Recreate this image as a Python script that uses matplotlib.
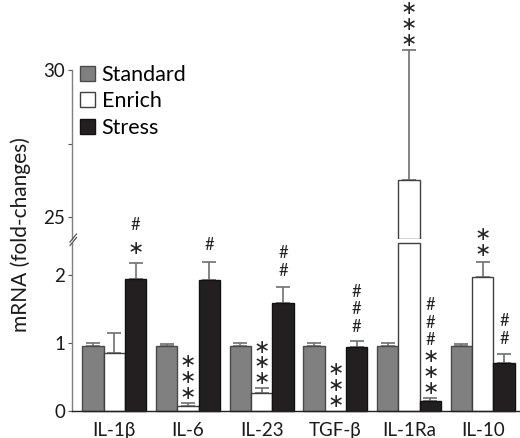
import numpy as np
import matplotlib
matplotlib.use("Agg")
import matplotlib.pyplot as plt
from matplotlib.patches import Patch

plt.rcParams["font.family"] = ["Lato", "DejaVu Sans"]

# ---- data ----
genes = ["IL-1β", "IL-6", "IL-23", "TGF-β", "IL-1Ra", "IL-10"]
groups = ["Standard", "Enrich", "Stress"]

standard = [0.96, 0.96, 0.96, 0.96, 0.96, 0.96]
standard_err = [0.03, 0.02, 0.035, 0.03, 0.04, 0.025]
enrich = [0.85, 0.08, 0.27, 0.0, 26.25, 1.97]
enrich_err = [0.29, 0.04, 0.06, 0.0, 4.44, 0.21]
stress = [1.935, 1.915, 1.58, 0.94, 0.14, 0.70]
stress_err = [0.24, 0.275, 0.245, 0.09, 0.05, 0.13]

# significance marks (vs standard: *, vs enrich: #)
stars = [["", "", "*"], ["", "***", ""], ["", "***", ""],
         ["", "***", ""], ["", "***", "***"], ["", "**", ""]]
hashes = [["", "", "#"], ["", "", "#"], ["", "", "##"],
          ["", "", "###"], ["", "", "###"], ["", "", "##"]]

means = np.array([standard, enrich, stress])
errs = np.array([standard_err, enrich_err, stress_err])

face = ["#808080", "white", "#231f20"]
edge = ["#4a4a4a", "#404040", "#111111"]

W, H = 520, 438
fig = plt.figure(figsize=(W / 100, H / 100), dpi=100)


def px_axes(left, top, right, bottom):
    return fig.add_axes([left / W, 1 - bottom / H, (right - left) / W, (bottom - top) / H])


ax_lo = px_axes(72, 243, 520, 411)
ax_hi = px_axes(72, 0, 520, 239)

lo_top = 2.463
hi_lo, hi_top = 24.24, 32.40
ax_lo.set_ylim(0, lo_top)
ax_hi.set_ylim(hi_lo, hi_top)
for ax in (ax_lo, ax_hi):
    ax.set_xlim(-0.574, 5.506)

x = np.arange(len(genes))
bw = 0.29
offs = [-bw, 0, bw]

for i in range(3):
    xi = x + offs[i]
    vals = means[i]
    # lower panel, bars capped at the break
    ax_lo.bar(xi, np.minimum(vals, lo_top), width=bw, color=face[i],
              edgecolor=edge[i], linewidth=1.0, zorder=2, clip_on=False)
    # upper panel, only bars that reach it
    big = vals > hi_lo
    if big.any():
        ax_hi.bar(xi[big], vals[big] - hi_lo, bottom=hi_lo, width=bw,
                  color=face[i], edgecolor=edge[i], linewidth=1.0, zorder=2)
    for ax, m in ((ax_lo, (vals > 0) & ~big), (ax_hi, big)):
        if m.any():
            ax.errorbar(xi[m], vals[m], yerr=[np.zeros(m.sum()), errs[i][m]],
                        fmt="none", ecolor="#707070", elinewidth=1.2,
                        capsize=5, capthick=1.2, zorder=1, clip_on=False)

# significance symbols stacked above the error bars (offsets in pixels)
PT = 0.72
STAR_STEP, HASH_STEP = 11.5, 14.5
for g in range(len(genes)):
    for i in range(3):
        st, hs = stars[g][i], hashes[g][i]
        if not st and not hs:
            continue
        top = means[i][g] + errs[i][g]
        ax = ax_hi if means[i][g] > hi_lo else ax_lo
        xi = x[g] + offs[i]
        pos = 14
        if st:
            mid = pos + (len(st) - 1) * STAR_STEP / 2
            ax.annotate("\n".join("∗" * len(st)), (xi, top), xytext=(0, mid * PT),
                        textcoords="offset points", ha="center", va="center",
                        fontsize=14, family="DejaVu Sans", linespacing=0.78,
                        color="#222222", annotation_clip=False)
            pos += (len(st) - 1) * STAR_STEP + 24
        else:
            pos = 17
        if hs:
            mid = pos + (len(hs) - 1) * HASH_STEP / 2
            ax.annotate("\n".join("#" * len(hs)), (xi, top), xytext=(0, mid * PT),
                        textcoords="offset points", ha="center", va="center",
                        fontsize=12, linespacing=1.12,
                        color="#222222", annotation_clip=False)

# axes styling
for ax in (ax_lo, ax_hi):
    ax.patch.set_visible(False)
    for s in ("top", "right"):
        ax.spines[s].set_visible(False)
    ax.spines["left"].set_color("#808080")
    ax.spines["left"].set_linewidth(1.0)
    ax.tick_params(axis="y", length=3, width=0.8, color="#555555", pad=2,
                   labelsize=13.5, labelcolor="#1a1a1a")

ax_hi.spines["bottom"].set_visible(False)
ax_hi.spines["left"].set_bounds(hi_lo, 30)
ax_hi.set_xticks([])
ax_hi.set_yticks([25, 30])
ax_hi.set_yticks([27.5], minor=True)
ax_hi.tick_params(axis="y", which="minor", length=3, width=0.8, color="#555555")

ax_lo.spines["bottom"].set_color("#222222")
ax_lo.spines["bottom"].set_linewidth(1.0)
ax_lo.set_yticks([0, 1, 2])
ax_lo.set_xticks(x)
ax_lo.set_xticklabels(genes)
ax_lo.tick_params(axis="x", length=0, pad=8, labelsize=13.5, labelcolor="#1a1a1a")

# break marks on the y axis
for dy in (0.0, 3.5):
    fig.add_artist(plt.Line2D([70 / W, 76.5 / W],
                              [1 - (245.5 - dy) / H, 1 - (237.5 - dy) / H],
                              color="#555555", linewidth=0.9))

fig.text(21 / W, 1 - 235 / H, "mRNA (fold-changes)", rotation=90,
         ha="center", va="center", fontsize=15, color="#1a1a1a")

handles = [Patch(facecolor=face[i], edgecolor=edge[i], linewidth=1.0) for i in range(3)]
fig.legend(handles, groups, loc="upper left", bbox_to_anchor=(80 / W, 1 - 65 / H),
           frameon=False, fontsize=15.5, handlelength=0.7, handleheight=0.7,
           handletextpad=0.3, labelspacing=0.3, borderpad=0, borderaxespad=0)

fig.savefig("out.png", dpi=100)
